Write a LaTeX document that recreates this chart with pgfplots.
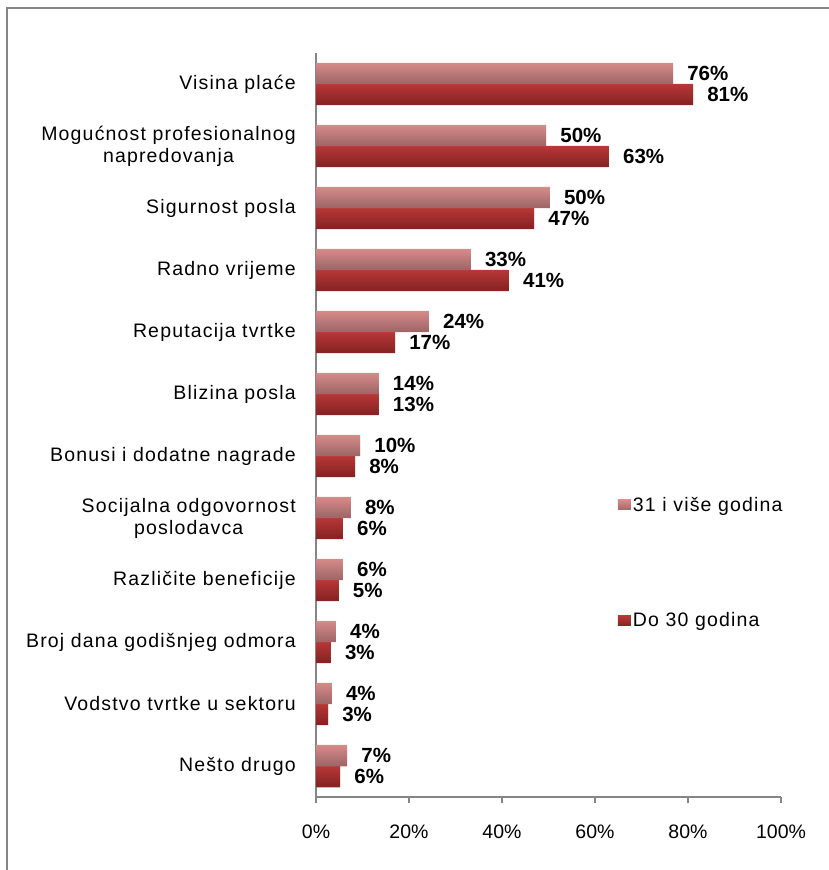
\documentclass[border=0pt]{standalone}
\usepackage{pgfplots}
\usepackage{pgfplotstable}
\pgfplotsset{compat=1.18}
\usepackage{fontspec}
\setmainfont{Liberation Sans}
\definecolor{lightA}{HTML}{D88A8A}
\definecolor{lightB}{HTML}{A06868}
\definecolor{darkA}{HTML}{B83737}
\definecolor{darkB}{HTML}{872424}
\definecolor{axgray}{HTML}{868686}
\newcommand{\catfont}{\fontsize{19.5}{22}\selectfont\addfontfeature{LetterSpace=6}}
\pgfplotstableread{
y old oldl young youngl
11 76.8 76 81.1 81
10 49.5 50 63.0 63
9 50.3 50 46.9 47
8 33.3 33 41.5 41
7 24.3 24 17.0 17
6 13.5 14 13.5 13
5 9.5 10 8.4 8
4 7.5 8 5.8 6
3 5.8 6 4.9 5
2 4.3 4 3.2 3
1 3.4 4 2.6 3
0 6.7 7 5.2 6
}\datatable
\begin{document}
\begin{tikzpicture}[x=1pt,y=1pt]
\useasboundingbox (0,0) rectangle (828,-870);
\draw[axgray, line width=1.5pt] (7,-871) -- (7,-8) -- (829,-8);
\begin{axis}[
  at={(316pt,-797pt)}, anchor=south west,
  scale only axis, width=465pt, height=744pt,
  xmin=0, xmax=100,
  ymin=-0.5, ymax=11.5,
  axis x line*=bottom, axis y line*=left,
  axis line style={axgray, line width=1.5pt, -},
  every tick/.style={axgray, line width=1.5pt},
  tick align=outside,
  xtick={0,20,...,100},
  xticklabel={\pgfmathprintnumber{\tick}\%},
  /pgf/number format/assume math mode=true,
  major tick length=6pt,
  minor tick length=6pt,
  ytick={0,...,11},
  ytick style={draw=none},
  minor ytick={-0.5,0.5,...,11.5},
  minor y tick style={axgray, line width=1.5pt},
  yticklabels={Nešto drugo, Vodstvo tvrtke u sektoru, Broj dana godišnjeg odmora, Različite beneficije, {Socijalna odgovornost\\poslodavca}, Bonusi i dodatne nagrade, Blizina posla, Reputacija tvrtke, Radno vrijeme, Sigurnost posla, {Mogućnost profesionalnog\\napredovanja}, Visina plaće},
  yticklabel style={align=center, anchor=east, inner sep=0pt, xshift=-14pt, font=\catfont},
  xticklabel style={anchor=north, inner sep=0pt, yshift=-22pt, font=\fontsize{19.5}{22}\selectfont},
  legend style={at={(rel axis cs:0.649,0.406)}, anchor=north west, draw=none, fill=none, inner sep=0pt, row sep=96pt, font=\catfont, cells={anchor=west}},
  clip=false,
]
% bars drawn as thin bands to give each bar its own vertical gradient
\pgfplotsinvokeforeach{0,10,20,30,40,50,60,70,80,90,100}{
  \addplot[forget plot, xbar, draw=none, bar width=2.4pt, bar shift={(20.05-0.1909*#1)*1pt}, fill=lightB!#1!lightA]
    table[x=old, y=y] {\datatable};
  \addplot[forget plot, xbar, draw=none, bar width=2.4pt, bar shift={(-0.95-0.1909*#1)*1pt}, fill=darkB!#1!darkA]
    table[x=young, y=y] {\datatable};
}
% value labels
\addplot[forget plot, draw=none, mark=none, point meta=explicit,
  nodes near coords={\pgfmathprintnumber{\pgfplotspointmeta}\%},
  nodes near coords style={anchor=west, inner sep=0pt, xshift=14pt, yshift=10.5pt, font=\bfseries\fontsize{20.5}{24}\selectfont, text=black}]
  table[x=old, y=y, meta=oldl] {\datatable};
\addplot[forget plot, draw=none, mark=none, point meta=explicit,
  nodes near coords={\pgfmathprintnumber{\pgfplotspointmeta}\%},
  nodes near coords style={anchor=west, inner sep=0pt, xshift=14pt, yshift=-10.5pt, font=\bfseries\fontsize{20.5}{24}\selectfont, text=black}]
  table[x=young, y=y, meta=youngl] {\datatable};
\addlegendimage{legend image code/.code={\path[draw=none, top color=lightA, bottom color=lightB] (0pt,-5pt) rectangle (13pt,5pt);}}
\addlegendentry{31 i više godina}
\addlegendimage{legend image code/.code={\path[draw=none, top color=darkA, bottom color=darkB] (0pt,-5pt) rectangle (13pt,5pt);}}
\addlegendentry{Do 30 godina}
\end{axis}
\end{tikzpicture}
\end{document}
